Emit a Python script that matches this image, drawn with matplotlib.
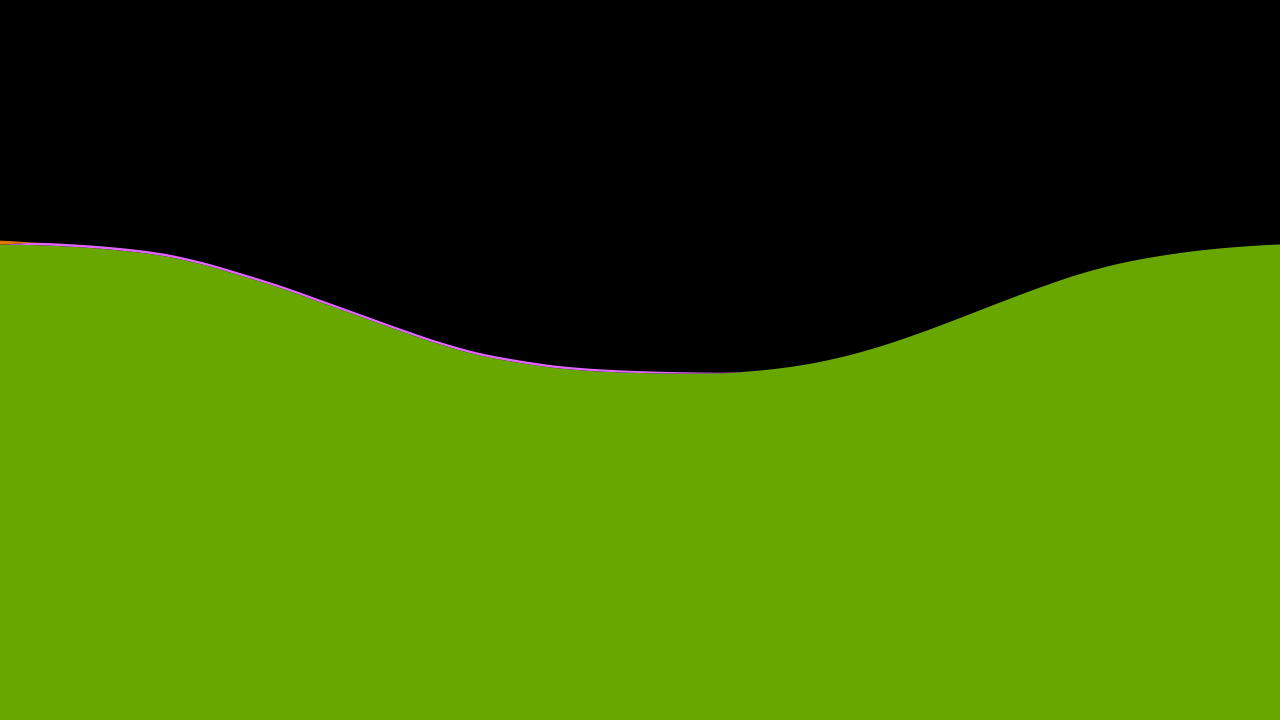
import matplotlib
matplotlib.use("Agg")
import matplotlib.pyplot as plt
import numpy as np

# sample positions (33 evenly spaced steps)
steps = list(range(33))

green = [475.5, 474.7, 472.7, 469.5, 464.5, 456, 444.5, 432, 417.8, 403.4,
         389, 375.5, 364.5, 357, 351.5, 348.5, 347, 346.4, 346.7, 349.5,
         354.5, 362.5, 373.5, 387, 402, 417.5, 432.5, 446, 456.5, 464,
         469.5, 473.2, 475.5]
pink = [0, 2.5, 2.5, 2.5, 2.5, 2.5, 2.5, 2.5, 2.5, 2.5,
        2.5, 2.5, 2.5, 2.5, 2.4, 2.2, 1.9, 1.4, 0.6, 0,
        0, 0, 0, 0, 0, 0, 0, 0, 0, 0,
        0, 0, 0]
orange = [3.8, 0, 0, 0, 0, 0, 0, 0, 0, 0,
          0, 0, 0, 0, 0, 0, 0, 0, 0, 0,
          0, 0, 0, 0, 0, 0, 0, 0, 0, 0,
          0, 0, 0]

colors = ['#68a600', '#e066ff', '#e07800']


def monotone(x, y, xs):
    # monotone cubic (pchip-like) curve through the data points
    x = np.asarray(x, float)
    y = np.asarray(y, float)
    h = np.diff(x)
    d = np.diff(y) / h
    m = np.zeros_like(y)
    for i in range(1, len(y) - 1):
        if d[i - 1] * d[i] > 0:
            w1 = 2 * h[i] + h[i - 1]
            w2 = h[i] + 2 * h[i - 1]
            m[i] = (w1 + w2) / (w1 / d[i - 1] + w2 / d[i])
    m[0] = d[0] / 2
    m[-1] = d[-1] / 2
    idx = np.clip(np.searchsorted(x, xs) - 1, 0, len(x) - 2)
    t = (xs - x[idx]) / h[idx]
    h00 = 2 * t**3 - 3 * t**2 + 1
    h10 = t**3 - 2 * t**2 + t
    h01 = -2 * t**3 + 3 * t**2
    h11 = t**3 - t**2
    return (h00 * y[idx] + h10 * h[idx] * m[idx]
            + h01 * y[idx + 1] + h11 * h[idx] * m[idx + 1])


xs = np.linspace(steps[0], steps[-1], 2000)
layers = [monotone(steps, s, xs) for s in (green, pink, orange)]
layers = [np.clip(l, 0, None) for l in layers]

fig = plt.figure(figsize=(12.8, 7.2), dpi=100, facecolor='black')
ax = fig.add_axes([0, 0, 1, 1])
ax.set_facecolor('black')
ax.stackplot(xs, *layers, colors=colors, linewidth=0, antialiased=True)
ax.set_xlim(steps[0], steps[-1])
ax.set_ylim(0, 720)
ax.axis('off')
fig.savefig('out.png', dpi=100, facecolor='black')
